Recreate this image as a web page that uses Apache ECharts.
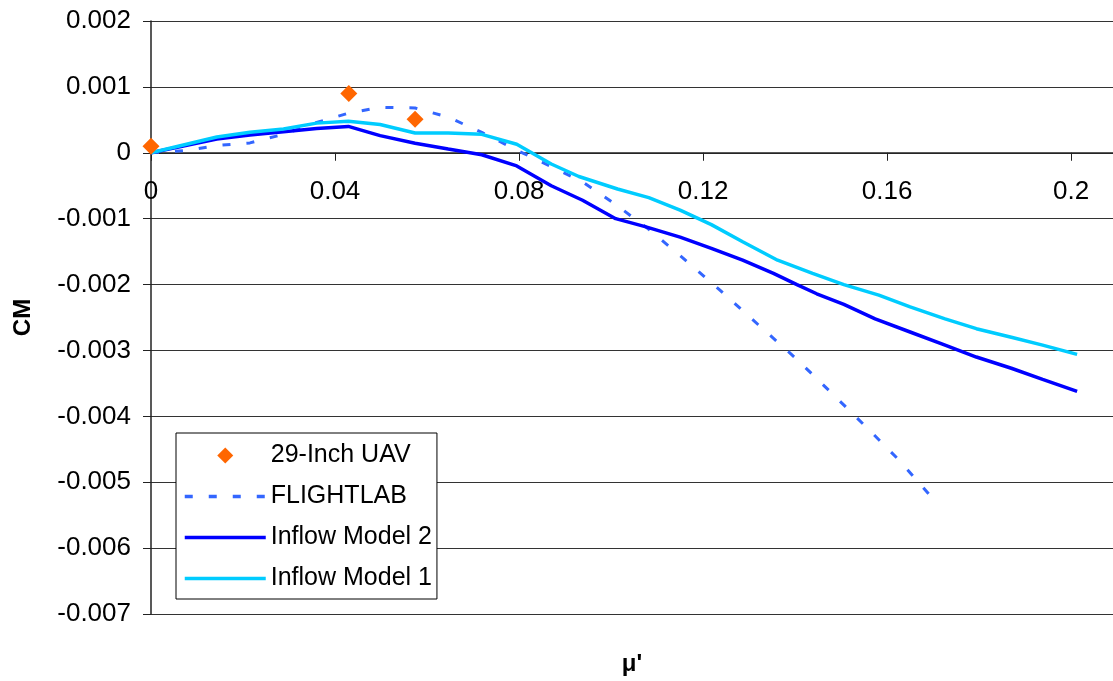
<!DOCTYPE html>
<html>
<head>
<meta charset="utf-8">
<script src="https://cdn.jsdelivr.net/npm/echarts@6/dist/echarts.min.js"></script>
<style>
  html, body { margin: 0; padding: 0; background: #fff; }
  #chart { width: 1113px; height: 681px; }
</style>
</head>
<body>
<div id="chart"></div>
<script>
// Pitching moment coefficient CM versus advance ratio mu'
const uavMu = [0, 0.043, 0.0574];
const uavCM = [0.0001, 0.0009, 0.00051];

const flightlabMu = [0, 0.0072, 0.0143, 0.0215, 0.0288, 0.036, 0.0429, 0.0498, 0.0574, 0.0646,
  0.0719, 0.0795, 0.0867, 0.0938, 0.1009, 0.108, 0.115, 0.1236, 0.132, 0.14, 0.148, 0.156, 0.1628, 0.1706];
const flightlabCM = [0, 0.00003, 0.00011, 0.00015, 0.00028, 0.00046, 0.0006, 0.00069, 0.00068, 0.00054,
  0.00031, 0.00004, -0.0002, -0.00044, -0.00078, -0.00115, -0.00156, -0.00208, -0.00261, -0.00311,
  -0.00365, -0.0042, -0.00468, -0.0053];

const model2Mu = [0, 0.0143, 0.0215, 0.0288, 0.036, 0.0429, 0.0498, 0.0574, 0.0646, 0.0719, 0.0795,
  0.087, 0.0938, 0.101, 0.1074, 0.115, 0.1218, 0.1286, 0.1353, 0.1404, 0.1447, 0.1506, 0.1574, 0.165,
  0.1726, 0.1794, 0.187, 0.1938, 0.2013];
const model2CM = [0, 0.00021, 0.00027, 0.00032, 0.00037, 0.0004, 0.00026, 0.000144, 0.000056, -0.00003,
  -0.0002, -0.0005, -0.00072, -0.001, -0.00112, -0.00128, -0.00145, -0.00163, -0.00183, -0.002, -0.00214,
  -0.0023, -0.00252, -0.00272, -0.00292, -0.0031, -0.00327, -0.00344, -0.00362];

const model1Mu = [0, 0.0143, 0.0215, 0.0288, 0.036, 0.0429, 0.0498, 0.0574, 0.0646, 0.0719, 0.0795,
  0.087, 0.093, 0.1014, 0.1082, 0.115, 0.1218, 0.1286, 0.1362, 0.1438, 0.1506, 0.1582, 0.165, 0.1726,
  0.1794, 0.187, 0.1938, 0.2013];
const model1CM = [0, 0.00024, 0.00031, 0.00036, 0.00045, 0.00048, 0.00043, 0.0003, 0.0003, 0.00028,
  0.00013, -0.00017, -0.00036, -0.00055, -0.00068, -0.00087, -0.00109, -0.00135, -0.00163, -0.00183,
  -0.002, -0.00216, -0.00234, -0.00252, -0.00267, -0.0028, -0.00292, -0.00306];

const seriesNames = ['29-Inch UAV', 'FLIGHTLAB', 'Inflow Model 2', 'Inflow Model 1'];
const seriesColors = ['#FF6600', '#3366FF', '#0000FF', '#00CCFF'];

// CM range of the value axis; the mu' axis is drawn across CM = 0
const cmMin = -0.007;
const cmMax = 0.002;

function pairs(xs, ys) {
  return xs.map((x, i) => [x, ys[i]]);
}

const FONT = '"Liberation Sans", Arial, sans-serif';
const DIAMOND = 'path://M0,-10 L10,0 L0,10 L-10,0 Z';

const GRID = { left: 151, top: 21, right: 0, bottom: 67 };
const plotHeight = 681 - GRID.top - GRID.bottom;
// Lift the mu' axis from the bottom edge of the grid up to CM = 0
const zeroLift = plotHeight * (0 - cmMin) / (cmMax - cmMin);

// Legend entries: a square diamond for the test points, bare line samples for the models
const legendItems = seriesNames.map((name, i) => i === 0
  ? { name, icon: DIAMOND, itemStyle: { color: seriesColors[0], opacity: 1 } }
  : {
      name,
      itemStyle: { opacity: 0 },
      lineStyle: i === 1
        ? { color: seriesColors[i], width: 3.5, type: [8, 16] }
        : { color: seriesColors[i], width: 3.5 }
    });

const chart = echarts.init(document.getElementById('chart'), null, { renderer: 'canvas' });

chart.setOption({
  animation: false,
  backgroundColor: '#fff',
  textStyle: { fontFamily: FONT, color: '#000' },
  grid: Object.assign({ containLabel: false, outerBoundsMode: 'none' }, GRID),
  legend: {
    orient: 'vertical',
    left: 176,
    top: 433,
    data: legendItems,
    itemWidth: 81,
    itemHeight: 16,
    itemGap: 16,
    padding: [10, 5, 8, 7],
    borderColor: '#000',
    borderWidth: 1,
    backgroundColor: '#fff',
    textStyle: { fontFamily: FONT, fontSize: 25, color: '#000' }
  },
  xAxis: {
    type: 'value',
    min: 0,
    max: 0.2091,
    interval: 0.04,
    position: 'bottom',
    offset: -zeroLift,
    name: "μ'",
    nameLocation: 'middle',
    nameGap: 500,
    nameTextStyle: { fontFamily: FONT, fontSize: 24, fontWeight: 'bold', color: '#000' },
    axisLine: { onZero: false, lineStyle: { color: '#222', width: 1.5 } },
    axisTick: { show: true, inside: false, length: 8, lineStyle: { color: '#222', width: 1 } },
    axisLabel: {
      showMaxLabel: false,
      margin: 26,
      fontSize: 26,
      color: '#000',
      fontFamily: FONT
    },
    splitLine: { show: false }
  },
  yAxis: {
    type: 'value',
    min: cmMin,
    max: cmMax,
    interval: 0.001,
    name: 'CM',
    nameLocation: 'middle',
    nameGap: 116,
    nameRotate: 90,
    nameTextStyle: { fontFamily: FONT, fontSize: 24, fontWeight: 'bold', color: '#000' },
    axisLine: { show: true, onZero: false, lineStyle: { color: '#222', width: 1.5 } },
    axisTick: { show: true, inside: false, length: 8, lineStyle: { color: '#222', width: 1 } },
    axisLabel: {
      margin: 20,
      fontSize: 26,
      color: '#000',
      fontFamily: FONT,
      formatter: v => String(Math.round(v * 1000) / 1000)
    },
    splitLine: { show: true, lineStyle: { color: '#333', width: 1 } }
  },
  series: [
    {
      name: seriesNames[0],
      type: 'scatter',
      symbol: 'diamond',
      symbolSize: 17,
      z: 5,
      itemStyle: { color: seriesColors[0], opacity: 1 },
      data: pairs(uavMu, uavCM)
    },
    {
      name: seriesNames[1],
      type: 'line',
      symbol: 'none',
      z: 2,
      lineStyle: { color: seriesColors[1], width: 3, type: [8, 16] },
      itemStyle: { color: seriesColors[1] },
      data: pairs(flightlabMu, flightlabCM)
    },
    {
      name: seriesNames[2],
      type: 'line',
      symbol: 'none',
      z: 3,
      lineStyle: { color: seriesColors[2], width: 3.5 },
      itemStyle: { color: seriesColors[2] },
      data: pairs(model2Mu, model2CM)
    },
    {
      name: seriesNames[3],
      type: 'line',
      symbol: 'none',
      z: 4,
      lineStyle: { color: seriesColors[3], width: 3.5 },
      itemStyle: { color: seriesColors[3] },
      data: pairs(model1Mu, model1CM)
    }
  ]
});
</script>
</body>
</html>
